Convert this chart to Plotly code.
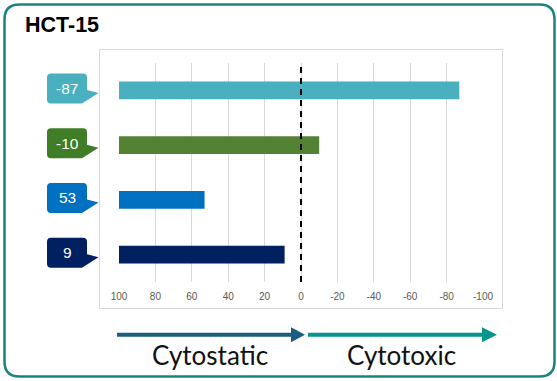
import plotly.graph_objects as go

# ---- data ----
labels = ["-87", "-10", "53", "9"]
values = [-87, -10, 53, 9]
bar_colors = ["#4AAFBE", "#548235", "#0070C0", "#002060"]
callout_colors = ["#4AAFBE", "#3F7D26", "#0070C0", "#002060"]
tick_vals = [100, 80, 60, 40, 20, 0, -20, -40, -60, -80, -100]
tick_text = ["100", "80", "60", "40", "20", "0", "-20", "-40", "-60", "-80", "-100"]
title = "HCT-15"
arrow_labels = ["Cytostatic", "Cytotoxic"]
BASE = 100

# ---- layout geometry (pixels) ----
W, H = 557, 381
L, R, T, B = 119, 74, 63, 99
PW, PH = W - L - R, H - T - B


def px(x):
    return (x - L) / PW


def py(y):
    return (H - B - y) / PH


fig = go.Figure()
fig.add_trace(go.Bar(
    y=labels,
    x=[v - BASE for v in values],
    base=[BASE] * len(values),
    orientation="h",
    width=0.32,
    marker=dict(color=bar_colors, line=dict(width=0)),
    hoverinfo="skip",
    showlegend=False,
))

shapes = []
annotations = []

# outer rounded frame
def rrect(x0, y0, x1, y1, r):
    return (f"M {px(x0 + r)},{py(y0)} L {px(x1 - r)},{py(y0)} Q {px(x1)},{py(y0)} {px(x1)},{py(y0 + r)} "
            f"L {px(x1)},{py(y1 - r)} Q {px(x1)},{py(y1)} {px(x1 - r)},{py(y1)} "
            f"L {px(x0 + r)},{py(y1)} Q {px(x0)},{py(y1)} {px(x0)},{py(y1 - r)} "
            f"L {px(x0)},{py(y0 + r)} Q {px(x0)},{py(y0)} {px(x0 + r)},{py(y0)} Z")

shapes.append(dict(type="path", xref="paper", yref="paper", path=rrect(4.5, 4.5, 554.5, 376.5, 15),
                   line=dict(color="#17857F", width=2.5), fillcolor="rgba(0,0,0,0)", layer="below"))
# light grey chart-area box
shapes.append(dict(type="rect", xref="paper", yref="paper", x0=px(99.5), x1=px(502.5), y0=py(49.5), y1=py(308.5),
                   line=dict(color="#D9D9D9", width=1), layer="below"))
# dashed zero line
shapes.append(dict(type="line", xref="x", yref="paper", x0=0, x1=0, y0=0, y1=1,
                   line=dict(color="black", width=2, dash="6px,5px")))

# callouts
callout_path = ("M -68,17 L -36,17 Q -32,17 -32,13 L -32,0.5 L -20.5,-2.5 L -37,-13 "
                "L -68,-13 Q -72,-13 -72,-9 L -72,13 Q -72,17 -68,17 Z")
for i, (lab, c) in enumerate(zip(labels, callout_colors)):
    shapes.append(dict(type="path", xref="paper", yref="y", xsizemode="pixel", ysizemode="pixel",
                       xanchor=0, yanchor=i, path=callout_path, fillcolor=c, line=dict(width=0)))
    annotations.append(dict(xref="paper", yref="y", x=0, y=i, xshift=-52, yshift=2, text=lab,
                            xanchor="center", yanchor="middle",
                            showarrow=False, font=dict(family="Liberation Sans, Arial", size=15.5, color="white")))

# bottom arrows
def arrow(x0, xb, xt, yc, th, hh, color):
    p = (f"M {px(x0)},{py(yc - th / 2)} L {px(xb)},{py(yc - th / 2)} L {px(xb)},{py(yc - hh / 2)} "
         f"L {px(xt)},{py(yc)} L {px(xb)},{py(yc + hh / 2)} L {px(xb)},{py(yc + th / 2)} "
         f"L {px(x0)},{py(yc + th / 2)} Z")
    return dict(type="path", xref="paper", yref="paper", path=p, fillcolor=color, line=dict(width=0))

shapes.append(arrow(117, 291, 305, 334.8, 4, 15, "#1A5E80"))
shapes.append(arrow(308, 482, 497, 334.8, 4, 15, "#05958F"))

for txt, xc in zip(arrow_labels, [210, 401]):
    annotations.append(dict(xref="paper", yref="paper", x=px(xc), y=py(354.5), text=txt, showarrow=False,
                            xanchor="center", yanchor="middle",
                            font=dict(family="Lato, Noto Sans", size=26, color="#111111")))

annotations.append(dict(xref="paper", yref="paper", x=px(23), y=py(24.5), text=f"<b>{title}</b>", showarrow=False,
                        xanchor="left", yanchor="middle",
                        font=dict(family="Liberation Sans, Arial", size=21.5, color="black")))

fig.update_layout(
    width=W, height=H,
    margin=dict(l=L, r=R, t=T, b=B, pad=0),
    paper_bgcolor="white", plot_bgcolor="white",
    shapes=shapes, annotations=annotations,
    xaxis=dict(range=[100, -100], tickvals=tick_vals, ticktext=tick_text, showgrid=True,
               gridcolor="#D9D9D9", gridwidth=1, zeroline=False, showline=False, ticks="",
               ticklabelstandoff=7,
               tickfont=dict(family="Liberation Sans, Arial", size=10, color="#595959")),
    yaxis=dict(categoryorder="array", categoryarray=labels, range=[3.5, -0.5], showticklabels=False,
               showgrid=False, zeroline=False, showline=False, ticks=""),
)

fig.write_html("out.html", config={"displayModeBar": False},
               post_script="document.body.style.margin='0';")
